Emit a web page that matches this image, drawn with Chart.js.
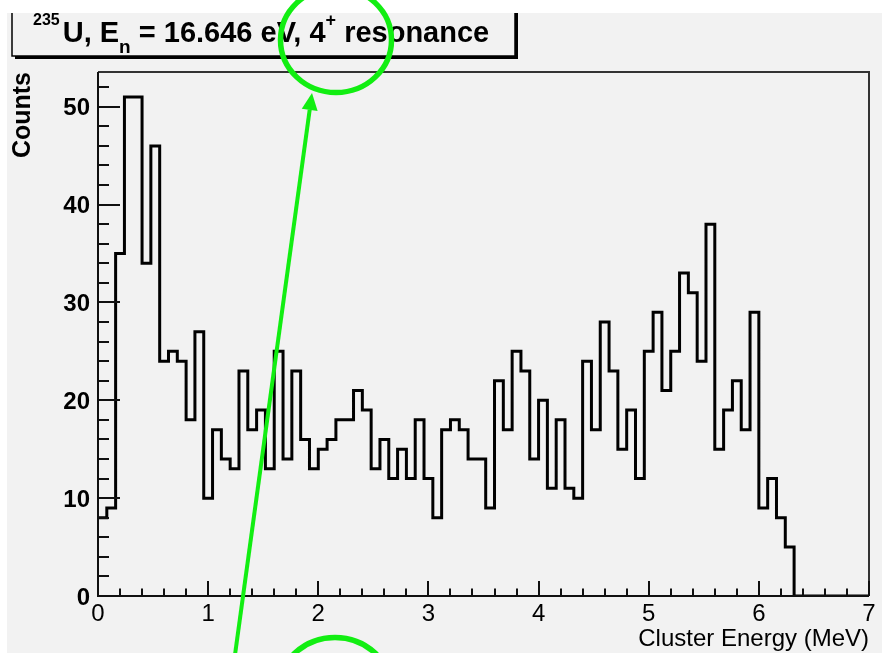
<!DOCTYPE html>
<html><head><meta charset="utf-8">
<script src="https://cdn.jsdelivr.net/npm/chart.js@4.4.1/dist/chart.umd.min.js"></script>
<style>html,body{margin:0;padding:0;background:#fff;overflow:hidden}canvas{display:block}</style>
</head><body><canvas id="c" width="882" height="653"></canvas>
<script>
// ---- data ----
const binWidth = 0.08; // MeV per bin
const counts = [8,9,35,51,51,34,46,24,25,24,
  18,27,10,17,14,13,23,17,19,13,
  25,14,23,16,13,15,16,18,18,21,
  19,13,16,12,15,12,18,12,8,17,
  18,17,14,14,9,22,17,25,23,14,
  20,11,18,11,10,24,17,28,23,15,
  19,12,25,29,21,25,33,31,24,38,
  15,19,22,17,29,9,12,8,5,0,
  0,0,0,0,0,0,0,0];
const xTickLabels = [0,1,2,3,4,5,6,7];
const yTickLabels = [0,10,20,30,40,50];
const xMax = 7;
const yMax = 53.55;
const xTitle = 'Cluster Energy (MeV)';
const yTitle = 'Counts';

const F = '"Liberation Sans", Arial, Helvetica, sans-serif';
// bin edges: each point is the low edge of a bin; the closing point is the last high edge
const points = counts.map((c,i)=>({x:i*binWidth, y:c}));
points.push({x:counts.length*binWidth, y:counts[counts.length-1]});

const bgPlugin = {
  id:'bg',
  beforeDraw(chart){
    const ctx = chart.ctx;
    ctx.save();
    ctx.fillStyle = '#f2f2f2';
    ctx.fillRect(0,0,chart.width,chart.height);
    ctx.restore();
  }
};

const decoPlugin = {
  id:'deco',
  afterDraw(chart){
    const ctx = chart.ctx;
    const a = chart.chartArea;
    const xs = chart.scales.x, ys = chart.scales.y;
    ctx.save();
    // frame
    ctx.lineWidth = 2;
    ctx.strokeStyle = '#333';
    ctx.beginPath();
    ctx.moveTo(a.left, a.top); ctx.lineTo(a.right, a.top); ctx.lineTo(a.right, a.bottom);
    ctx.stroke();
    ctx.strokeStyle = '#111';
    ctx.beginPath();
    ctx.moveTo(a.left, a.top); ctx.lineTo(a.left, a.bottom); ctx.lineTo(a.right, a.bottom);
    ctx.stroke();
    // y ticks (inside)
    ctx.lineWidth = 2;
    for (let k=0; k*2<=yMax; k++){
      const v = k*2;
      const py = Math.round(ys.getPixelForValue(v));
      const len = (v%10===0) ? 22 : 11;
      ctx.beginPath(); ctx.moveTo(a.left, py); ctx.lineTo(a.left+len, py); ctx.stroke();
    }
    // x ticks (inside)
    for (let k=0; k<=xMax*5; k++){
      const px = Math.round(xs.getPixelForValue(k/5));
      const len = (k%5===0) ? 15 : 7.5;
      ctx.beginPath(); ctx.moveTo(px, a.bottom); ctx.lineTo(px, a.bottom-len); ctx.stroke();
    }
    // title box with shadow
    ctx.fillStyle = '#000';
    ctx.fillRect(15, 0, 503, 59);
    ctx.fillStyle = '#f2f2f2';
    ctx.fillRect(12, -5, 503, 61);
    ctx.lineWidth = 1.5;
    ctx.strokeStyle = '#000';
    ctx.strokeRect(12, -5, 503, 61);
    // title text
    ctx.fillStyle = '#000';
    ctx.textBaseline = 'alphabetic';
    ctx.textAlign = 'left';
    const big = 'bold 29px '+F, sup = 'bold 16px '+F, sub = 'bold 19px '+F;
    let x = 33;
    const base = 42;
    const seg = (t, font, dy)=>{ ctx.font = font; ctx.fillText(t, x, base+dy); x += ctx.measureText(t).width; };
    seg('235', sup, -17);
    x += 3;
    seg('U, E', big, 0);
    seg('n', sub, 11);
    seg(' = 16.646 eV, 4', big, 0);
    seg('+', 'bold 18px '+F, -16);
    seg(' resonance', big, 0);
    // white margins
    ctx.fillStyle = '#fff';
    ctx.fillRect(0,0,chart.width,13);
    ctx.fillRect(0,0,7,chart.height);
    // green annotations
    ctx.strokeStyle = '#12ee12';
    ctx.fillStyle = '#12ee12';
    ctx.lineWidth = 5.5;
    ctx.beginPath(); ctx.ellipse(336, 40, 55.5, 52.5, 0, 0, Math.PI*2); ctx.stroke();
    ctx.beginPath(); ctx.ellipse(335, 688, 55.5, 50.5, 0, 0, Math.PI*2); ctx.stroke();
    // arrow
    const x0=234, y0=662, x1=312, y1=93;
    const ang = Math.atan2(y1-y0, x1-x0);
    const hl = 17, hw = 8;
    const bx = x1 - hl*Math.cos(ang), by = y1 - hl*Math.sin(ang);
    ctx.lineWidth = 4;
    ctx.beginPath(); ctx.moveTo(x0,y0); ctx.lineTo(bx,by); ctx.stroke();
    ctx.beginPath();
    ctx.moveTo(x1,y1);
    ctx.lineTo(bx + hw*Math.sin(ang), by - hw*Math.cos(ang));
    ctx.lineTo(bx - hw*Math.sin(ang), by + hw*Math.cos(ang));
    ctx.closePath(); ctx.fill();
    ctx.restore();
  }
};

new Chart(document.getElementById('c').getContext('2d'), {
  type:'line',
  data:{datasets:[{data:points, stepped:'before', borderColor:'#000', borderWidth:3,
    pointRadius:0, fill:false, tension:0}]},
  options:{
    responsive:false, animation:false, devicePixelRatio:1,
    layout:{padding:{left:0, right:13, top:72, bottom:0}},
    plugins:{legend:{display:false}, tooltip:{enabled:false}},
    scales:{
      x:{type:'linear', min:0, max:xMax, position:'bottom',
        afterBuildTicks:s=>{s.ticks = xTickLabels.map(v=>({value:v}));},
        afterFit:s=>{s.height = 57;},
        grid:{display:false, drawTicks:false}, border:{display:false},
        ticks:{font:{family:F, size:24}, color:'#000', padding:4, maxRotation:0, autoSkip:false,
          callback:v=>String(v)},
        title:{display:true, text:xTitle, align:'end', color:'#000',
          font:{family:F, size:24, lineHeight:1.2}, padding:{top:0, bottom:-1}}
      },
      y:{type:'linear', min:0, max:yMax, position:'left',
        afterBuildTicks:s=>{s.ticks = yTickLabels.map(v=>({value:v}));},
        afterFit:s=>{s.width = 98;},
        grid:{display:false, drawTicks:false}, border:{display:false},
        ticks:{font:{family:F, size:24, weight:'bold'}, color:'#000', padding:8, labelOffset:2,
          callback:v=>String(v)},
        title:{display:true, text:yTitle, align:'end', color:'#000',
          font:{family:F, size:25, weight:'bold', lineHeight:1.2}, padding:{top:8, bottom:0}}
      }
    }
  },
  plugins:[bgPlugin, decoPlugin]
});
</script>
</body></html>
